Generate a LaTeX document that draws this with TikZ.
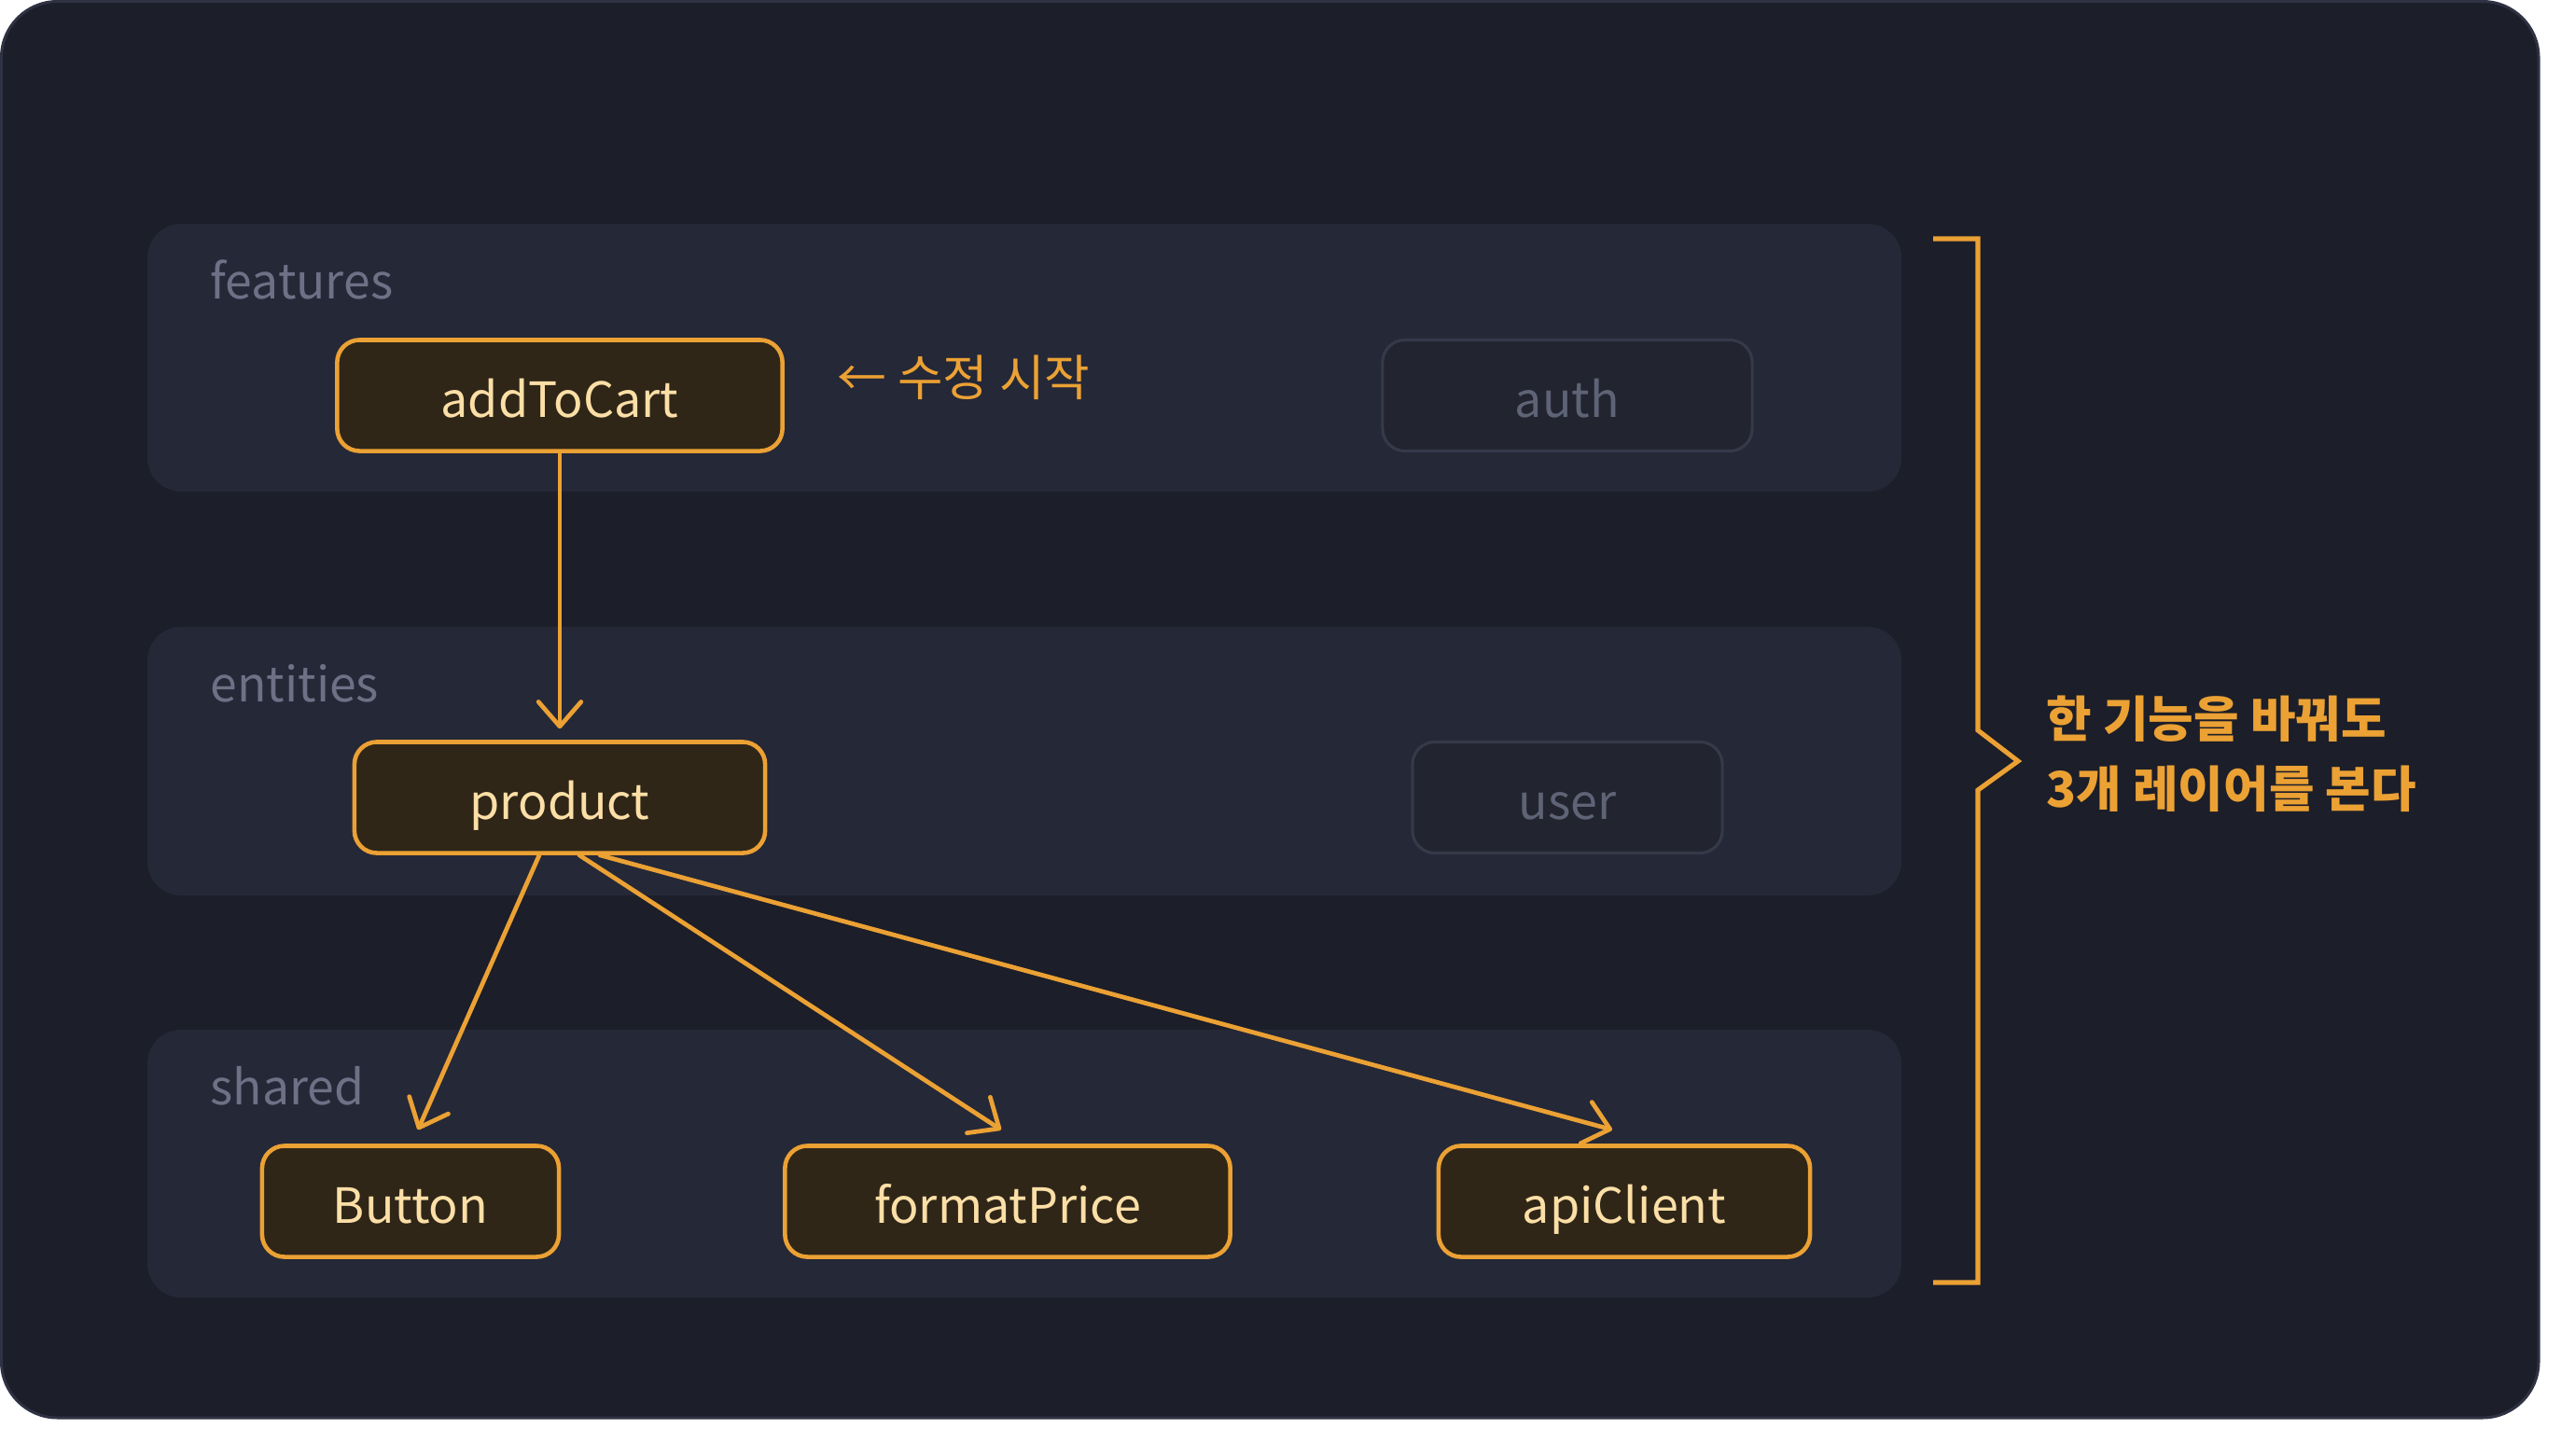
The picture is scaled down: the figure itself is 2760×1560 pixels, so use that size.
\documentclass[tikz,border=0pt]{standalone}
\usepackage{fontspec}
\setmainfont{Noto Sans CJK KR}
\usetikzlibrary{arrows.meta,calc}
\definecolor{cardc}{HTML}{1C1E29}
\definecolor{cardline}{HTML}{2F3243}
\definecolor{panelc}{HTML}{252837}
\definecolor{lblc}{HTML}{6C7186}
\definecolor{orng}{HTML}{EBA134}
\definecolor{hotfill}{HTML}{2F2618}
\definecolor{cream}{HTML}{FCDFA6}
\definecolor{coldfill}{HTML}{22242F}
\definecolor{coldline}{HTML}{353949}
\definecolor{coldtext}{HTML}{5E6376}
\begin{document}
\begin{tikzpicture}[x=0.01cm,y=-0.01cm,
  panel/.style={fill=panelc, rounded corners=0.36cm},
  lbl/.style={text=lblc, font=\fontsize{14.7}{18}\selectfont, anchor=base west, inner sep=0pt},
  hot/.style={draw=orng, line width=1.3pt, fill=hotfill, rounded corners=0.24cm, text=cream,
    font=\fontsize{14.8}{18}\selectfont, minimum height=1.19cm, inner sep=0pt,
    text height=13.4pt, text depth=0pt},
  cold/.style={draw=coldline, line width=0.9pt, fill=coldfill, rounded corners=0.24cm, text=coldtext,
    font=\fontsize{14.8}{18}\selectfont, minimum height=1.19cm, inner sep=0pt,
    text height=13.4pt, text depth=0pt},
  dep/.style={draw=orng, line width=1.35pt, line cap=round,
    -{Straight Barb[length=7.5pt,width=13pt,line cap=round,line join=round]}},
]
\useasboundingbox (0,0) rectangle (2760,1560);
\fill[white] (0,0) rectangle (2760,1560);
\draw[fill=cardc, draw=cardline, line width=0.85pt, rounded corners=0.6cm] (1.5,1.5) rectangle (2721,1520);

% layers
\path[panel] (158,240) rectangle (2038,527);
\path[panel] (158,672) rectangle (2038,960);
\path[panel] (158,1104) rectangle (2038,1391);
\node[lbl] (lf) at (225,320) {features};
\node[lbl] (le) at (225,752) {entities};
\node[lbl] (ls) at (225,1184) {shared};

% nodes
\node[hot, minimum width=4.77cm] (addToCart) at (600,424) {addToCart};
\node[cold, minimum width=3.96cm] (auth) at (1680,424) {auth};
\node[hot, minimum width=4.40cm] (product) at (600,855) {product};
\node[cold, minimum width=3.32cm] (user) at (1680,855) {user};
\node[hot, minimum width=3.18cm] (Button) at (440,1288) {Button};
\node[hot, minimum width=4.77cm] (formatPrice) at (1080,1288) {formatPrice};
\node[hot, minimum width=3.98cm] (apiClient) at (1741,1288) {apiClient};

\node[anchor=west, text=orng, font=\fontsize{15}{18}\selectfont, inner sep=0pt] (start) at (897,405) {← 수정 시작};

% connectors
\draw[dep] (addToCart.south) -- ($(product.north)+(0,-12)$);
\draw[dep] ($(product.south)+(-22,0)$) -- ($(Button.north)+(8,-15)$);
\draw[dep] ($(product.south)+(21,0)$) -- ($(formatPrice.north)+(-7,-15)$);
\draw[dep] ($(product.south)+(43,0)$) -- ($(apiClient.north)+(-13,-15)$);

% bracket
\coordinate (bt) at (2072,256);
\coordinate (bb) at (2072,1375);
\draw[orng, line width=1.45pt, line join=miter] (bt) -- (2120,256) -- (2120,783) -- (2163,816) -- (2120,847) -- (2120,1375) -- (bb);
\node[anchor=west, align=left, text=orng, font=\bfseries\fontsize{15}{21.3}\selectfont, inner sep=0pt] (note) at (2193,808) {한 기능을 바꿔도\\3개 레이어를 본다};
\end{tikzpicture}
\end{document}
